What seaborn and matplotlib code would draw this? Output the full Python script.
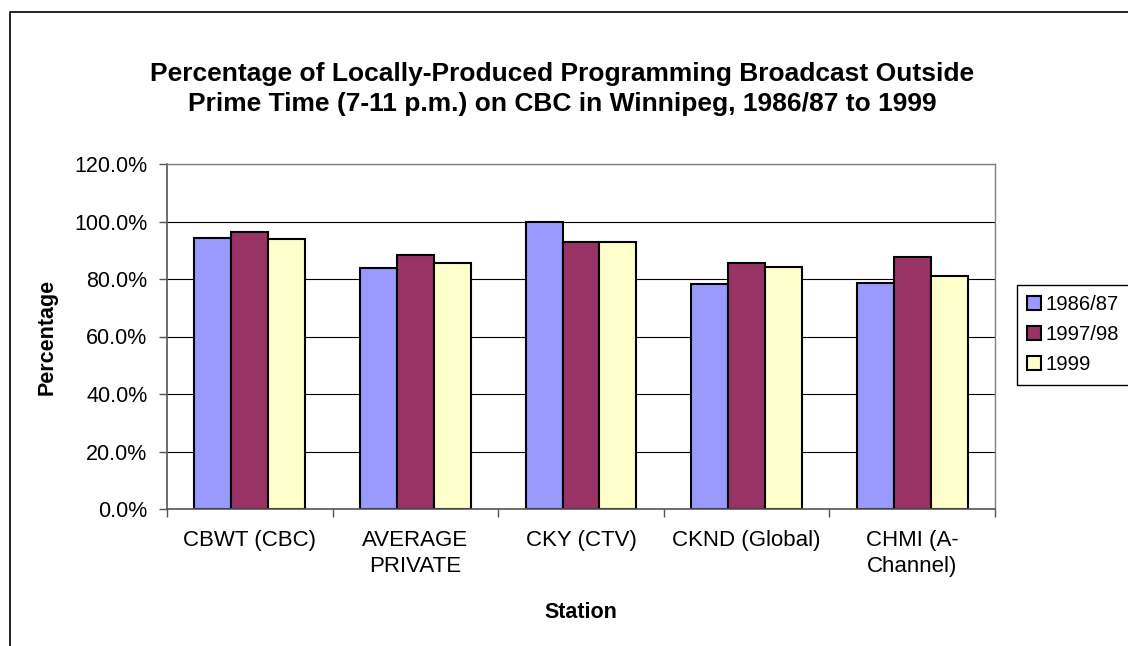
import matplotlib
matplotlib.use("Agg")
import matplotlib.pyplot as plt
import seaborn as sns
import pandas as pd
from matplotlib import patches
from matplotlib.ticker import FuncFormatter, FixedLocator

# ---------------------------------------------------
stations = ["CBWT (CBC)", "AVERAGE PRIVATE", "CKY (CTV)", "CKND (Global)", "CHMI (A-Channel)"]
station_labels = ["CBWT (CBC)", "AVERAGE\nPRIVATE", "CKY (CTV)", "CKND (Global)", "CHMI (A-\nChannel)"]
years = ["1986/87", "1997/98", "1999"]
pct_1986 = [94.2, 83.7, 99.8, 78.3, 78.6]
pct_1997 = [96.3, 88.4, 93.0, 85.7, 87.5]
pct_1999 = [94.0, 85.6, 92.7, 84.3, 81.2]
colors = ["#9999FF", "#993366", "#FFFFCC"]

rows = []
for year, vals in zip(years, [pct_1986, pct_1997, pct_1999]):
    for st, v in zip(stations, vals):
        rows.append({"Station": st, "Year": year, "Percentage": v})
df = pd.DataFrame(rows)

# ---------------------------------------------------
sns.set_style("white")
plt.rcParams['font.family'] = ['Liberation Sans', 'DejaVu Sans']
plt.rcParams['text.color'] = 'black'
plt.rcParams['axes.labelcolor'] = 'black'
plt.rcParams['xtick.color'] = 'black'
plt.rcParams['ytick.color'] = 'black'

fig = plt.figure(figsize=(11.28, 6.46), dpi=100)
ax = fig.add_axes([167 / 1128, 1 - 509 / 646, (995 - 167) / 1128, (509 - 164) / 646])

sns.barplot(data=df, x="Station", y="Percentage", hue="Year",
            order=stations, hue_order=years, palette=colors, saturation=1,
            width=0.67, edgecolor="black", linewidth=1.5, ax=ax)

ax.set_ylim(0, 120)
ax.set_xlim(-0.5, 4.5)
ax.set_yticks([0, 20, 40, 60, 80, 100, 120])
ax.yaxis.set_major_formatter(FuncFormatter(lambda v, p: f"{v:.1f}%"))
ax.yaxis.grid(True, color="black", linewidth=0.8)
ax.set_axisbelow(True)

ax.set_xticks(range(len(stations)))
ax.set_xticklabels(station_labels, linespacing=1.3)
ax.xaxis.set_minor_locator(FixedLocator([i + 0.5 for i in range(-1, len(stations))]))
ax.tick_params(axis="x", which="major", length=0, pad=15, labelsize=16)
ax.tick_params(axis="x", which="minor", length=6, width=1, color="#555555", direction="out")
ax.tick_params(axis="y", length=6, width=1, color="#555555", direction="out", pad=8, labelsize=15.5)
ax.tick_params(bottom=True, left=True, which="both")

for side in ["left", "bottom"]:
    ax.spines[side].set_color("#555555")
    ax.spines[side].set_linewidth(1.2)
for side in ["top", "right"]:
    ax.spines[side].set_color("#808080")
    ax.spines[side].set_linewidth(1.0)

ax.set_xlabel("Station", fontsize=15.5, fontweight="bold", labelpad=18)
ax.set_ylabel("Percentage", fontsize=15.5, fontweight="bold", labelpad=12)

fig.text(562 / 1128, 1 - 89 / 646,
         "Percentage of Locally-Produced Programming Broadcast Outside\nPrime Time (7-11 p.m.) on CBC in Winnipeg, 1986/87 to 1999",
         ha="center", va="center", fontsize=19, fontweight="bold", linespacing=1.3)

# legend
handles = [patches.Patch(facecolor=c, edgecolor="black", linewidth=1.5, label=y) for c, y in zip(colors, years)]
if ax.get_legend() is not None:
    ax.get_legend().remove()
leg = fig.legend(handles=handles, loc="upper left",
                 bbox_to_anchor=(1017 / 1128, 1 - 285 / 646), bbox_transform=fig.transFigure,
                 fontsize=14.6, frameon=True, fancybox=False, framealpha=1,
                 edgecolor="black", borderpad=0.5, labelspacing=0.55,
                 handlelength=0.7, handleheight=0.7, handletextpad=0.2, borderaxespad=0)
leg.get_frame().set_linewidth(1.0)

# outer chart border
fig.patches.append(patches.Rectangle((10 / 1128, -0.5), 2.0, 1 - 12 / 646 + 0.5,
                                     transform=fig.transFigure, fill=False,
                                     edgecolor="black", linewidth=1.2))

fig.savefig("out.png", dpi=100)
